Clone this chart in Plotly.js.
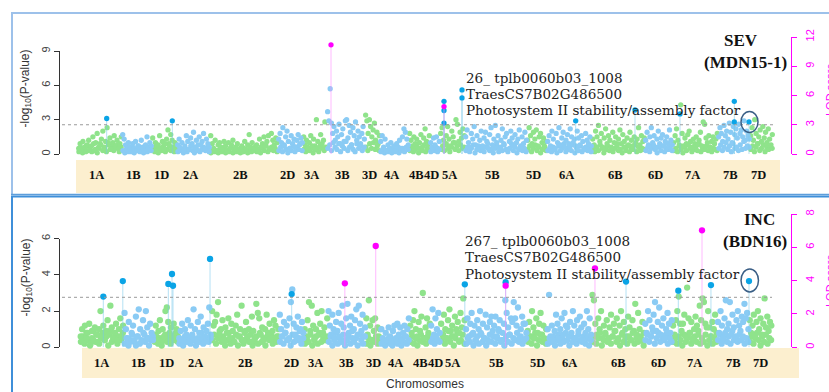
<!DOCTYPE html>
<html><head><meta charset="utf-8">
<script src="https://cdn.plot.ly/plotly-3.0.1.min.js"></script>
<style>html,body{margin:0;padding:0;background:#fff}#chart{width:829px;height:392px}</style>
</head><body><div id="chart"></div>
<script>
// ---------- data ----------
const chromosomes = ['1A','1B','1D','2A','2B','2D','3A','3B','3D','4A','4B','4D','5A','5B','5D','6A','6B','6D','7A','7B','7D'];
const chromLength = [44,30,25,33,68,25,24,38,15,29,21,10,25,62,20,45,53,28,45,32,23];

// SEV (MDN15-1): -log10(P) of background markers, per chromosome
const sevLogP = [
 [.5,.9,.3,1.1,.6,.2,.8,1.2,.4,.7,1.5,.3,1.0,1.8,.6,.9,1.3,2.0,.5,1.1,2.3,.8,1.4,.4,1.0,1.6,.7,1.2,.5,.9,1.5],
 [1.7,1.3,.8,.4,1.0,.6,.2,.9,.5,1.1,.3,.7,.4,1.2,.6,.3,.8,1.5,.5,1.0,.7],
 [1.4,.6,1.0,.3,.8,1.6,.5,1.1,.4,.9,1.3,2.1,.7,1.7,1.2,.5,1.0,.8],
 [.8,1.3,.5,1.0,.3,.7,1.6,1.1,.4,1.4,.9,1.9,.6,1.2,.3,1.5,.8,1.1,1.8,.5,1.3,.9,.6],
 [1.6,.9,.5,1.2,.3,.8,1.0,.6,.4,1.1,.7,.3,1.0,.5,.8,1.2,.4,.6,.9,.3,.5,.7,.2,1.1,.4,.8,1.7,.6,1.0,.3,.5,.8,.4,1.3,.6,.9,1.5,.7,1.1,1.6,.5,1.8,1.2,.8,1.4,1.0],
 [1.3,1.8,1.0,2.3,.7,1.5,2.0,1.1,.5,1.6,.9,1.3,.6,1.2,1.7,.8,1.4,1.0],
 [1.5,.8,1.2,.5,1.0,1.6,.7,1.3,.4,3.0,1.1,.6,1.7,.9,1.2,2.8,.5],
 [3.7,2.9,5.7,2.7,1.8,2.4,1.2,2.0,1.5,2.6,.9,1.7,2.2,1.1,2.9,3.0,1.4,2.5,1.9,.8,2.3,1.6,2.8,1.2,2.0,1.5,.9,1.8,2.4,1.3],
 [3.4,2.9,1.8,3.0,2.4,1.5,2.1,2.7,1.2,1.9,.9,1.6],
 [1.1,1.6,.6,1.3,.3,.8,.5,1.0,.4,.7,.3,.9,.6,1.2,.5,1.5,2.2,1.9,1.3,.8],
 [1.8,1.2,.7,1.5,.9,1.3,.5,1.0,1.7,.6,1.4,2.2,1.1,.8,1.6],
 [1.0,.6,1.4,.8,1.5,.5,1.1],
 [1.8,2.3,1.2,.8,1.6,2.4,1.3,.7,2.0,1.5,1.0,3.0,2.6,1.1,1.9,1.4,2.2,1.6],
 [1.5,2.1,1.0,.6,1.8,1.3,2.4,.8,1.6,.4,1.2,2.0,.7,1.4,1.9,1.1,.5,1.7,2.3,.8,1.3,2.5,1.0,1.6,.5,1.2,2.2,.9,1.5,1.8,.4,1.1,2.0,1.4,.7,1.7,1.0,1.3,2.1,.6,1.5,.9,1.9,1.2],
 [1.2,2.3,1.6,.9,1.9,1.3,2.1,.7,1.5,1.8,1.0,1.4,.6,1.1],
 [1.1,1.6,.7,2.0,1.3,.5,1.8,1.0,2.3,.8,1.4,1.9,.6,1.2,1.7,.9,2.2,1.5,1.0,1.3,.7,2.0,1.4,.8,1.6,1.1,.5,1.8,1.2,.9,1.5,.7],
 [1.3,.8,2.0,1.5,2.5,1.1,1.8,.6,1.4,2.2,.9,1.6,1.2,.5,1.9,1.0,1.5,.7,1.3,2.1,.9,1.7,1.1,.6,1.4,.8,1.9,1.2,.7,1.5,1.0,1.3,2.3,.8,1.6,1.1,1.4],
 [1.2,1.9,.8,1.5,2.3,1.0,1.6,.6,1.3,2.0,.9,1.4,1.7,.7,1.1,1.5,.9,2.1,1.2,.8],
 [1.0,1.6,2.2,1.2,.8,4.3,1.8,.7,1.4,.9,1.7,2.0,1.1,.6,1.3,.9,1.5,.8,1.2,1.9,.7,2.8,2.6,1.4,1.0,1.6,.6,1.1,1.5,.9,1.3,1.8],
 [1.5,2.3,1.8,1.1,2.5,1.6,2.0,1.3,2.7,1.9,1.0,2.4,1.7,2.2,1.4,2.6,1.8,2.1,1.5,2.9,1.2,2.0,1.6,1.3],
 [1.6,2.3,1.2,3.0,1.8,.9,1.5,2.1,1.1,2.4,1.4,1.9,1.0,2.2,1.3,.8,1.7]
];
// SEV: low-lying background markers, per chromosome
const sevLowLogP = [
 [.2,.5,.1,.4,.7,.3,.6,.2,.9,.4,.1,.5,.8,.3,.6,.2,1.0,.4,.7,.3,.5,.8,.2,.6],
 [.3,.1,.5,.2,.4,.6,.1,.3,.7,.2,.5,.1,.4,.2,.6,.3],
 [.4,.2,.6,.1,.5,.3,.7,.2,.4,.9,.3,.6,.2,.5],
 [.2,.6,.3,.1,.5,.2,.4,.7,.3,.1,.5,.8,.2,.4,.6,.3,.5,.2],
 [.1,.4,.2,.3,.1,.5,.2,.4,.1,.3,.2,.6,.1,.3,.2,.4,.1,.2,.5,.3,.1,.4,.2,.3,.6,.2,.4,.1,.5,.3,.7,.2,.4,.6,.3,.5,.2],
 [.3,.6,.2,.8,.4,.1,.5,.3,.7,.2,.6,.4,.9,.3],
 [.4,.2,.6,.3,.5,.1,.7,.4,.2,.8,.5,.3,.6],
 [.5,.8,.3,1.0,.6,.4,.9,.2,.7,.5,1.1,.3,.6,.8,.4,.2,.9,.5,.7,.3,.6],
 [.6,.3,.9,.5,1.0,.4,.7,.3],
 [.2,.4,.1,.3,.2,.5,.1,.3,.2,.4,.1,.3,.5,.2,.6,.4],
 [.3,.6,.2,.4,.7,.1,.5,.3,.8,.2,.5,.4],
 [.2,.4,.3,.6,.2,.4],
 [.4,.7,.3,.9,.5,.2,.6,1.0,.4,.7,.3,.8,.5,.6],
 [.3,.6,.2,.5,.8,.1,.4,.7,.3,.5,.2,.6,.9,.3,.4,.1,.5,.7,.2,.6,.3,.8,.4,.2,.5,.9,.3,.6,.1,.4,.7,.3,.5,.2],
 [.4,.7,.2,.5,.8,.3,.6,.1,.4,.7,.3],
 [.3,.5,.2,.6,.4,.1,.7,.3,.5,.9,.2,.4,.6,.3,.8,.1,.5,.3,.7,.2,.4,.6,.3,.5,.2],
 [.4,.2,.6,.3,.8,.5,.1,.4,.7,.3,.6,.2,.5,.9,.3,.4,.1,.6,.3,.7,.2,.5,.4,.8,.2,.6,.3,.5,.4],
 [.3,.6,.2,.5,.8,.4,.1,.6,.3,.7,.2,.5,.4,.6,.3],
 [.3,.5,.2,.7,.4,.1,.6,.3,.8,.5,.2,.4,.6,.3,.9,.2,.5,.4,.7,.3,.6,.2,.5,.4,.3],
 [.5,.8,.3,.6,1.0,.4,.7,.2,.9,.5,.6,.3,.8,.4,1.1,.5,.7,.6],
 [.4,.7,.2,.6,.9,.3,.5,.8,.2,.6,.4,.7,.5]
];
// INC (BDN16)
const incLogP = [
 [.6,1.0,.3,1.2,.5,.8,1.3,.2,.9,.4,1.1,.7,.3,1.0,2.0,.6,1.2,.4,.9,1.5,.7,2.3,1.1,.5,.8,1.3,.4,1.0,1.6,.6,1.2],
 [1.9,1.0,.5,1.4,.3,.8,1.2,.4,1.7,.6,2.1,1.0,.3,1.5,.7,2.0,1.1,.5,1.3,.8,.4],
 [.7,1.2,.4,.9,1.5,.3,1.0,.6,2.0,2.2,1.4,.8,1.1,.5,1.3,.7,1.0,.6],
 [.5,.9,1.3,.4,1.0,.7,1.5,.3,1.2,.6,2.1,1.0,.4,1.4,.8,1.7,.5,1.1,.3,.9,1.3,2.2,.7],
 [2.0,1.2,1.4,1.8,2.5,.7,1.0,1.5,.4,1.1,.8,1.6,.5,1.3,.9,.3,1.2,1.8,.6,1.0,2.3,.4,.8,1.4,.6,1.0,.3,1.7,.9,.5,2.4,1.9,1.6,.7,1.1,.4,1.0,1.8,.8,1.3,.5,.9,1.5,1.2,.6,1.0],
 [1.8,1.0,.6,1.4,.8,1.2,.4,1.6,2.5,3.2,1.3,.7,1.1,1.7,.5,1.0,1.4,.8],
 [1.0,.6,1.5,2.5,.9,2.3,1.2,.5,1.0,1.9,.7,1.3,2.0,.8,1.1,.4,1.6],
 [2.0,1.2,.7,1.8,1.0,.5,1.4,.9,1.9,.6,1.3,2.3,1.1,.4,1.6,2.4,.8,1.2,1.7,.5,1.0,1.5,2.1,.7,2.3,1.3,.9,1.8,.6,1.1],
 [1.6,.7,2.6,1.2,.4,1.5,.9,1.6,.3,1.1,.6,1.0],
 [1.0,.5,.3,.8,.4,1.1,.6,.3,.9,1.2,.5,1.3,.7,1.1,.4,.8,1.2,.6,1.0,1.6],
 [1.2,.8,1.5,2.0,1.0,.6,1.4,.9,1.7,3.0,.5,1.1,1.6,.8,1.3],
 [1.2,2.1,.7,1.6,1.0,1.9,.8],
 [1.3,.7,1.8,1.0,.5,1.5,2.1,.9,1.2,.6,1.7,1.0,1.4,.8,1.9,1.1,2.7,1.5],
 [1.0,1.6,.6,1.3,1.9,.8,1.2,.4,1.5,1.0,2.0,.7,1.3,.5,1.8,1.1,.3,1.4,1.7,.9,1.2,1.7,.6,1.0,1.5,.4,.8,1.3,2.6,1.9,1.1,.7,1.6,1.4,2.5,1.6,1.2,2.2,.5,1.0,1.7,1.3,1.3,.8],
 [.9,1.4,.6,2.0,1.1,.5,1.6,.8,1.3,1.9,.7,1.2,.4,1.0],
 [1.0,2.9,.6,1.2,.4,.9,1.8,1.3,.5,1.0,1.6,.7,1.9,1.2,1.1,.6,1.4,.8,2.0,1.2,.5,1.5,.9,1.7,1.1,.4,1.3,.8,2.0,1.0,1.6,.7],
 [2.9,2.6,1.3,.7,1.6,1.0,2.0,.5,1.2,.8,1.5,.4,1.1,1.8,.6,1.3,.9,1.6,.5,1.2,2.0,.8,1.4,1.0,.6,1.7,1.1,.4,1.5,.9,2.4,.7,1.9,1.0,.5,1.4,.8],
 [1.3,.8,2.0,1.5,.6,1.1,1.8,2.5,.9,1.4,2.2,.7,1.2,1.6,.5,1.0,1.9,1.3,.8,1.5],
 [1.2,.7,1.5,2.0,2.8,1.3,.9,1.3,1.8,.6,3.3,1.6,.8,1.4,.5,1.0,1.7,1.2,.7,2.3,1.5,2.7,2.5,1.3,1.1,2.0,1.1,.6,1.4,1.0,1.8,.8],
 [1.4,.8,2.0,1.2,.5,1.6,2.6,1.0,1.3,2.5,.7,1.8,1.1,.6,1.5,2.0,1.2,.9,1.7,1.4,2.4,1.6,1.9,1.0],
 [1.5,.8,1.2,1.8,.6,1.4,2.0,1.0,1.6,.7,1.3,2.7,1.1,1.7,.9,1.4,1.2]
];
// INC: low-lying background markers, per chromosome
const incLowLogP = [
 [.3,.6,.2,.8,.4,.1,.5,.9,.3,.7,.2,.5,.8,.4,.6,.1,.9,.3,.5,.7,.2,.6,.4,.8],
 [.2,.5,.1,.4,.7,.3,.1,.6,.2,.4,.8,.3,.5,.1,.4,.6],
 [.3,.6,.2,.5,.1,.4,.7,.3,.5,.2,.6,.4,.8,.3],
 [.2,.4,.1,.6,.3,.5,.2,.7,.4,.1,.5,.3,.8,.2,.6,.4,.3,.5],
 [.4,.7,.2,.5,.9,.3,.6,.1,.4,.8,.2,.5,.3,.7,.1,.6,.4,.2,.9,.5,.3,.7,.1,.4,.6,.2,.8,.3,.5,.1,.6,.4,.7,.2,.5,.3,.6],
 [.3,.6,.2,.8,.4,.5,.1,.7,.3,.6,.4,.9,.2,.5],
 [.2,.5,.3,.7,.1,.4,.6,.2,.8,.3,.5,.4,.6],
 [.3,.6,.1,.4,.8,.2,.5,.3,.7,.1,.4,.6,.2,.9,.3,.5,.1,.7,.4,.2,.6],
 [.2,.5,.1,.4,.3,.6,.2,.4],
 [.2,.4,.1,.3,.5,.2,.1,.4,.3,.2,.5,.1,.3,.6,.2,.4],
 [.3,.6,.2,.5,.1,.4,.7,.3,.5,.2,.6,.4],
 [.3,.5,.2,.6,.4,.3],
 [.4,.7,.2,.5,.9,.3,.6,.1,.5,.8,.3,.4,.7,.2],
 [.2,.5,.3,.7,.1,.4,.6,.2,.8,.3,.5,.1,.4,.7,.3,.6,.2,.5,.9,.3,.4,.1,.6,.3,.7,.2,.5,.4,.8,.3,.6,.2,.4,.5],
 [.3,.6,.2,.5,.8,.1,.4,.7,.3,.5,.2],
 [.2,.5,.3,.6,.1,.4,.7,.2,.5,.3,.8,.4,.1,.6,.3,.5,.2,.7,.4,.3,.6,.2,.5,.1,.4],
 [.3,.6,.2,.5,.8,.1,.4,.7,.3,.5,.2,.6,.9,.3,.4,.1,.7,.3,.5,.2,.6,.4,.8,.2,.5,.3,.6,.4,.1],
 [.4,.7,.3,.6,.9,.2,.5,.8,.3,.6,.4,.7,.2,.5,.3],
 [.3,.5,.2,.6,.4,.1,.7,.3,.5,.8,.2,.4,.6,.3,.9,.2,.5,.3,.7,.1,.4,.6,.2,.5,.3],
 [.4,.7,.2,.5,.8,.3,.6,.2,.9,.4,.5,.3,.7,.4,.6,.2,.5,.3],
 [.3,.6,.2,.5,.8,.4,.1,.6,.3,.7,.2,.5,.4]
];

// highlighted markers (chromosome, position within chromosome, -log10 P)
const sevHitChrom = ['1A','1D','5A','5A','5A','5A','5A','6A','6B','7A','7B','7B','7B'];
const sevHitPos   = [28.7,20.3,4,4,4,22,22,28.7,43,7,16.3,16.3,31];
const sevHitLogP  = [3.1,2.9,4.6,3.8,2.7,5.6,4.9,2.9,3.85,3.5,4.6,2.8,2.8];
const sevQtlChrom = ['3B','5A'];
const sevQtlPos   = [4,4];
const sevQtlLod   = [11.2,4.86];

const incHitChrom = ['1A','1A','1D','1D','1D','2A','2D','5A','5B','6B','7A','7A','7B'];
const incHitPos   = [23.4,43,14.7,18.4,19.4,31.6,12.6,24.5,40.5,34.4,5.9,38.7,31.9];
const incHitLogP  = [2.8,3.66,3.5,4.05,3.4,4.88,2.94,3.48,3.6,3.63,3.13,3.44,3.66];
const incQtlChrom = ['3B','3D','5B','6B','7A'];
const incQtlPos   = [17,10,40.5,3.2,29.7];
const incQtlLod   = [3.84,6.08,3.7,4.74,7.02];

const lodThreshold = 3;
const geneLines = ['TraesCS7B02G486500','Photosystem II stability/assembly factor'];
const sevMarker = '26_ tplb0060b03_1008';
const incMarker = '267_ tplb0060b03_1008';

// ---------- build ----------
const W = 829, H = 392;
const px = v => v / W, py = v => 1 - v / H;
const chromStart = [];
chromLength.reduce((acc, l, i) => { chromStart[i] = acc; return acc + l; }, 0);
const total = chromLength.reduce((a, b) => a + b, 0);
const GREEN = '#8fe38b', BLUE = '#8acbf4', HIT = '#0aa4e6', MAG = '#ff00ff';

function panel(lowVals, vals, hc, hp, hv, qc, qp, ql, xa, ya, la, ms) {
  const g = {x: [], y: []}, b = {x: [], y: []};
  [lowVals, vals].forEach(set => set.forEach((arr, i) => {
    const t = i % 2 === 0 ? g : b;
    arr.forEach((v, j) => { t.x.push(chromStart[i] + (j + 0.5) * chromLength[i] / arr.length); t.y.push(v); });
  }));
  const hx = hc.map((c, i) => chromStart[chromosomes.indexOf(c)] + hp[i]);
  const qx = qc.map((c, i) => chromStart[chromosomes.indexOf(c)] + qp[i]);
  const hl = {x: [], y: []}, ql2 = {x: [], y: []};
  hx.forEach((x, i) => { hl.x.push(x, x, null); hl.y.push(0, hv[i], null); });
  qx.forEach((x, i) => { ql2.x.push(x, x, null); ql2.y.push(0, ql[i], null); });
  const base = {type: 'scatter', hoverinfo: 'skip', cliponaxis: false, xaxis: xa};
  return {
    hx, traces: [
      Object.assign({}, base, {x: g.x, y: g.y, yaxis: ya, mode: 'markers', marker: {color: GREEN, size: ms}}),
      Object.assign({}, base, {x: b.x, y: b.y, yaxis: ya, mode: 'markers', marker: {color: BLUE, size: ms}}),
      Object.assign({}, base, {x: hl.x, y: hl.y, yaxis: ya, mode: 'lines', line: {color: 'rgba(120,200,235,0.55)', width: 1}}),
      Object.assign({}, base, {x: hx, y: hv, yaxis: ya, mode: 'markers', marker: {color: HIT, size: ms}}),
      Object.assign({}, base, {x: ql2.x, y: ql2.y, yaxis: la, mode: 'lines', line: {color: 'rgba(255,140,255,0.6)', width: 1}}),
      Object.assign({}, base, {x: qx, y: ql, yaxis: la, mode: 'markers', marker: {color: MAG, size: ms}})
    ]
  };
}
const sevPanel = panel(sevLowLogP, sevLogP, sevHitChrom, sevHitPos, sevHitLogP, sevQtlChrom, sevQtlPos, sevQtlLod, 'x', 'y', 'y2', 5.3);
const incPanel = panel(incLowLogP, incLogP, incHitChrom, incHitPos, incHitLogP, incQtlChrom, incQtlPos, incQtlLod, 'x2', 'y3', 'y4', 6.3);

const tickFont = {family: 'Liberation Sans, Arial, sans-serif', size: 11, color: '#444'};
const pAxis = (dom, rng, vals) => ({domain: dom, range: rng, tickvals: vals, anchor: 'free', position: px(59),
  ticks: 'outside', ticklen: 5, tickcolor: '#333', tickangle: -90, showline: true, linecolor: '#333', linewidth: 1,
  showgrid: false, zeroline: false, tickfont: tickFont, fixedrange: true});
const lodAxis = (dom, rng, vals) => ({domain: dom, range: rng, tickvals: vals, anchor: 'free', position: px(791), side: 'right',
  ticks: 'outside', ticklen: 5, tickcolor: MAG, tickangle: -90, showline: true, linecolor: MAG, linewidth: 1,
  ticklabelstandoff: 4,
  showgrid: false, zeroline: false, tickfont: Object.assign({}, tickFont, {color: MAG}), fixedrange: true});

const shapes = [
  {type: 'rect', xref: 'paper', yref: 'paper', x0: px(76), x1: px(780), y0: py(193), y1: py(160), fillcolor: '#fcefcf', line: {width: 0}, layer: 'below'},
  {type: 'rect', xref: 'paper', yref: 'paper', x0: px(82), x1: px(799), y0: py(378), y1: py(348), fillcolor: '#fcefcf', line: {width: 0}, layer: 'below'},
  {type: 'line', xref: 'paper', yref: 'y2', x0: px(62), x1: px(775), y0: lodThreshold, y1: lodThreshold, line: {color: '#9a9a9a', width: 1, dash: 'dot'}},
  {type: 'line', xref: 'paper', yref: 'y4', x0: px(62), x1: px(772), y0: lodThreshold, y1: lodThreshold, line: {color: '#9a9a9a', width: 1, dash: 'dot'}},
  {type: 'line', xref: 'paper', yref: 'paper', x0: px(11), x1: 1.01, y0: py(13), y1: py(13), line: {color: '#9dc1ea', width: 2}},
  {type: 'line', xref: 'paper', yref: 'paper', x0: px(12), x1: px(12), y0: py(13), y1: py(194), line: {color: '#9dc1ea', width: 2}},
  {type: 'line', xref: 'paper', yref: 'paper', x0: px(11), x1: 1.01, y0: py(194.5), y1: py(194.5), line: {color: '#5d9edb', width: 1.5}},
  {type: 'line', xref: 'paper', yref: 'paper', x0: px(11), x1: 1.01, y0: py(196.5), y1: py(196.5), line: {color: '#3f8fd9', width: 2}},
  {type: 'line', xref: 'paper', yref: 'paper', x0: px(12), x1: px(12), y0: py(196), y1: -0.01, line: {color: '#3f8fd9', width: 2}},
  {type: 'circle', xref: 'x', yref: 'y', x0: sevPanel.hx[12] - 8, x1: sevPanel.hx[12] + 9, y0: sevHitLogP[12] - 0.92, y1: sevHitLogP[12] + 0.92, line: {color: '#3b5f86', width: 1.5}},
  {type: 'circle', xref: 'x2', yref: 'y3', x0: incPanel.hx[12] - 8, x1: incPanel.hx[12] + 9.5, y0: incHitLogP[12] - 0.6, y1: incHitLogP[12] + 0.67, line: {color: '#3b5f86', width: 1.5}}
];

const ann = [];
const A = o => ann.push(Object.assign({showarrow: false, xanchor: 'center', yanchor: 'middle', xref: 'paper', yref: 'paper'}, o));
const serifB = {family: 'Liberation Serif, Times New Roman, serif', size: 12.5, color: '#111'};
chromosomes.forEach((c, i) => {
  const mid = chromStart[i] + chromLength[i] / 2;
  A({text: '<b>' + c + '</b>', xref: 'x', x: mid - 3.5, y: py(175), font: serifB});
  A({text: '<b>' + c + '</b>', xref: 'x2', x: mid, y: py(362.5), font: serifB});
});
const sans = {family: 'Liberation Sans, Arial, sans-serif', size: 12, color: '#333'};
const lodFont = {family: 'Liberation Sans, Arial, sans-serif', size: 11, color: MAG};
A({text: '-log<sub>10</sub>(P-value)', x: px(26), y: py(88.5), textangle: -90, font: sans});
A({text: '-log<sub>10</sub>(P-value)', x: px(26), y: py(277.5), textangle: -90, font: sans});
A({text: 'LOD score', x: px(830), y: py(90), textangle: -90, font: lodFont});
A({text: 'LOD score', x: px(830), y: py(281), textangle: -90, font: lodFont});
A({text: 'Chromosomes', x: px(425.5), y: py(384), font: sans});
const big = {family: 'Liberation Serif, Times New Roman, serif', size: 17, color: '#111'};
A({text: '<b>SEV</b>', x: px(740.5), y: py(40.7), font: big});
A({text: '<b>(MDN15-1)</b>', x: px(745), y: py(62), font: big});
A({text: '<b>INC</b>', x: px(759.5), y: py(220), font: big});
A({text: '<b>(BDN16)</b>', x: px(754.5), y: py(241.7), font: big});
const gf = {family: 'DejaVu Serif, serif', size: 13.5, color: '#222'};
[[sevMarker, 464, [77.7, 94, 110]], [incMarker, 462.7, [241, 257.3, 274]]].forEach(([m, x, ys]) => {
  [m].concat(geneLines).forEach((t, k) => A({text: t, x: px(x), y: py(ys[k]), xanchor: 'left', font: gf}));
});

const layout = {
  width: W, height: H, margin: {l: 0, r: 0, t: 0, b: 0}, showlegend: false,
  paper_bgcolor: '#fff', plot_bgcolor: 'rgba(0,0,0,0)',
  xaxis: {domain: [px(78), px(773)], range: [0, total], visible: false, anchor: 'y', fixedrange: true},
  xaxis2: {domain: [px(80), px(772)], range: [0, total], visible: false, anchor: 'y3', fixedrange: true},
  yaxis: pAxis([py(154), py(51)], [0, 9], [0, 3, 6, 9]),
  yaxis2: lodAxis([py(154), py(37)], [0, 12], [0, 3, 6, 9, 12]),
  yaxis3: pAxis([py(347.3), py(238.7)], [0, 6], [0, 2, 4, 6]),
  yaxis4: lodAxis([py(347.3), py(214)], [0, 8], [0, 2, 4, 6, 8]),
  shapes: shapes, annotations: ann
};
Plotly.newPlot('chart', sevPanel.traces.concat(incPanel.traces), layout, {displayModeBar: false, staticPlot: true});
</script></body></html>
